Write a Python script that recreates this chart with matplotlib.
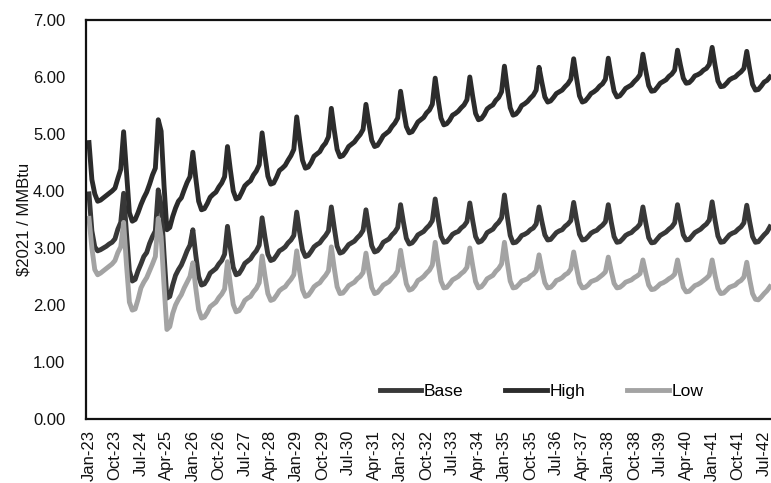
import matplotlib
matplotlib.use("Agg")
import matplotlib.pyplot as plt
import numpy as np

plt.rcParams["font.family"] = ["Liberation Sans", "DejaVu Sans"]

# monthly prices, $2021/MMBtu, Jan-23 .. Sep-42 (one row per year)
high = [
    4.85, 4.20, 3.95, 3.82, 3.84, 3.88, 3.92, 3.96, 4.00, 4.05, 4.22, 4.38,
    5.04, 4.33, 3.62, 3.47, 3.50, 3.62, 3.76, 3.88, 3.98, 4.12, 4.28, 4.40,
    5.25, 5.05, 4.10, 3.32, 3.36, 3.55, 3.70, 3.82, 3.88, 4.02, 4.15, 4.25,
    4.68, 4.23, 3.82, 3.67, 3.69, 3.78, 3.89, 3.94, 3.98, 4.07, 4.14, 4.25,
    4.78, 4.37, 4.00, 3.86, 3.88, 3.98, 4.09, 4.14, 4.18, 4.28, 4.35, 4.46,
    5.02, 4.62, 4.26, 4.12, 4.14, 4.24, 4.36, 4.40, 4.45, 4.54, 4.62, 4.73,
    5.30, 4.90, 4.54, 4.40, 4.42, 4.50, 4.61, 4.65, 4.69, 4.78, 4.84, 4.95,
    5.45, 5.07, 4.73, 4.60, 4.62, 4.69, 4.78, 4.82, 4.86, 4.93, 4.99, 5.08,
    5.52, 5.19, 4.89, 4.78, 4.80, 4.88, 4.97, 5.01, 5.05, 5.13, 5.19, 5.28,
    5.75, 5.42, 5.13, 5.02, 5.04, 5.12, 5.21, 5.25, 5.29, 5.37, 5.42, 5.52,
    5.98, 5.61, 5.28, 5.16, 5.18, 5.24, 5.33, 5.36, 5.40, 5.46, 5.51, 5.60,
    6.00, 5.66, 5.36, 5.25, 5.27, 5.34, 5.44, 5.48, 5.51, 5.59, 5.64, 5.74,
    6.19, 5.80, 5.46, 5.33, 5.35, 5.41, 5.50, 5.53, 5.57, 5.63, 5.68, 5.77,
    6.17, 5.90, 5.65, 5.56, 5.58, 5.64, 5.71, 5.74, 5.77, 5.83, 5.88, 5.96,
    6.32, 5.98, 5.67, 5.56, 5.58, 5.64, 5.71, 5.74, 5.78, 5.84, 5.88, 5.96,
    6.33, 6.02, 5.75, 5.65, 5.67, 5.73, 5.80, 5.83, 5.86, 5.92, 5.97, 6.04,
    6.40, 6.11, 5.85, 5.75, 5.76, 5.82, 5.89, 5.92, 5.95, 6.01, 6.05, 6.12,
    6.47, 6.21, 5.98, 5.89, 5.90, 5.95, 6.02, 6.04, 6.07, 6.12, 6.15, 6.22,
    6.52, 6.21, 5.93, 5.83, 5.84, 5.89, 5.95, 5.98, 6.00, 6.05, 6.09, 6.15,
    6.45, 6.14, 5.87, 5.77, 5.78, 5.84, 5.91, 5.94, 6.00,
]
base = [
    3.95, 3.30, 3.02, 2.95, 2.97, 3.00, 3.03, 3.07, 3.10, 3.16, 3.33, 3.45,
    3.96, 3.25, 2.60, 2.42, 2.45, 2.60, 2.72, 2.85, 2.92, 3.08, 3.20, 3.30,
    4.02, 3.75, 2.90, 2.12, 2.15, 2.35, 2.52, 2.62, 2.70, 2.82, 2.95, 3.05,
    3.32, 2.88, 2.50, 2.35, 2.37, 2.45, 2.56, 2.60, 2.64, 2.72, 2.78, 2.89,
    3.38, 3.00, 2.66, 2.53, 2.55, 2.63, 2.73, 2.77, 2.81, 2.89, 2.95, 3.05,
    3.53, 3.19, 2.89, 2.78, 2.80, 2.87, 2.95, 2.98, 3.02, 3.09, 3.14, 3.22,
    3.63, 3.28, 2.97, 2.85, 2.87, 2.94, 3.02, 3.06, 3.09, 3.16, 3.22, 3.30,
    3.72, 3.36, 3.03, 2.91, 2.93, 2.99, 3.06, 3.09, 3.12, 3.18, 3.23, 3.31,
    3.67, 3.34, 3.04, 2.93, 2.95, 3.01, 3.10, 3.13, 3.16, 3.23, 3.28, 3.36,
    3.76, 3.45, 3.17, 3.07, 3.09, 3.15, 3.23, 3.26, 3.29, 3.35, 3.40, 3.48,
    3.86, 3.52, 3.21, 3.10, 3.11, 3.17, 3.24, 3.27, 3.29, 3.35, 3.39, 3.46,
    3.79, 3.48, 3.20, 3.10, 3.12, 3.18, 3.27, 3.30, 3.33, 3.40, 3.45, 3.53,
    3.93, 3.55, 3.22, 3.09, 3.10, 3.15, 3.22, 3.24, 3.27, 3.32, 3.35, 3.42,
    3.72, 3.46, 3.23, 3.14, 3.15, 3.21, 3.27, 3.30, 3.32, 3.38, 3.42, 3.48,
    3.80, 3.50, 3.24, 3.14, 3.15, 3.20, 3.26, 3.29, 3.31, 3.36, 3.40, 3.46,
    3.76, 3.46, 3.20, 3.10, 3.11, 3.16, 3.22, 3.25, 3.27, 3.32, 3.36, 3.42,
    3.72, 3.44, 3.18, 3.09, 3.10, 3.16, 3.22, 3.25, 3.28, 3.33, 3.37, 3.44,
    3.76, 3.48, 3.23, 3.14, 3.15, 3.21, 3.27, 3.30, 3.33, 3.38, 3.42, 3.49,
    3.81, 3.49, 3.21, 3.10, 3.11, 3.17, 3.23, 3.26, 3.28, 3.33, 3.37, 3.44,
    3.75, 3.46, 3.20, 3.10, 3.11, 3.17, 3.23, 3.28, 3.37,
]
low = [
    3.52, 3.00, 2.62, 2.53, 2.56, 2.60, 2.64, 2.68, 2.72, 2.78, 2.92, 3.02,
    3.45, 2.70, 2.05, 1.91, 1.93, 2.10, 2.30, 2.40, 2.48, 2.60, 2.72, 2.85,
    3.52, 3.20, 2.35, 1.57, 1.62, 1.85, 2.00, 2.10, 2.18, 2.30, 2.40, 2.50,
    2.74, 2.30, 1.92, 1.77, 1.79, 1.87, 1.97, 2.01, 2.05, 2.13, 2.19, 2.28,
    2.76, 2.36, 2.01, 1.88, 1.90, 1.98, 2.08, 2.12, 2.15, 2.23, 2.29, 2.39,
    2.86, 2.51, 2.20, 2.08, 2.10, 2.17, 2.25, 2.29, 2.32, 2.39, 2.45, 2.53,
    2.95, 2.59, 2.27, 2.15, 2.17, 2.24, 2.32, 2.36, 2.39, 2.46, 2.52, 2.60,
    3.02, 2.65, 2.32, 2.20, 2.21, 2.27, 2.34, 2.37, 2.40, 2.46, 2.50, 2.57,
    2.91, 2.59, 2.31, 2.20, 2.22, 2.28, 2.35, 2.38, 2.41, 2.47, 2.52, 2.60,
    2.96, 2.65, 2.37, 2.26, 2.28, 2.34, 2.43, 2.46, 2.50, 2.56, 2.61, 2.70,
    3.10, 2.74, 2.42, 2.30, 2.31, 2.37, 2.44, 2.47, 2.50, 2.55, 2.59, 2.66,
    3.00, 2.69, 2.41, 2.30, 2.32, 2.38, 2.46, 2.49, 2.52, 2.59, 2.64, 2.72,
    3.10, 2.74, 2.42, 2.30, 2.31, 2.36, 2.42, 2.44, 2.46, 2.51, 2.54, 2.60,
    2.88, 2.62, 2.39, 2.30, 2.31, 2.36, 2.43, 2.45, 2.48, 2.53, 2.56, 2.63,
    2.93, 2.65, 2.39, 2.30, 2.31, 2.35, 2.41, 2.43, 2.45, 2.49, 2.53, 2.58,
    2.84, 2.60, 2.38, 2.30, 2.31, 2.35, 2.40, 2.42, 2.44, 2.48, 2.51, 2.55,
    2.79, 2.56, 2.35, 2.27, 2.28, 2.32, 2.37, 2.39, 2.42, 2.46, 2.49, 2.54,
    2.79, 2.54, 2.31, 2.23, 2.24, 2.29, 2.34, 2.36, 2.39, 2.43, 2.47, 2.52,
    2.79, 2.52, 2.29, 2.20, 2.21, 2.26, 2.31, 2.33, 2.35, 2.40, 2.43, 2.49,
    2.75, 2.45, 2.20, 2.10, 2.09, 2.14, 2.20, 2.25, 2.32,
]

tick_labels = ["Jan-23", "Oct-23", "Jul-24", "Apr-25", "Jan-26", "Oct-26", "Jul-27",
               "Apr-28", "Jan-29", "Oct-29", "Jul-30", "Apr-31", "Jan-32", "Oct-32",
               "Jul-33", "Apr-34", "Jan-35", "Oct-35", "Jul-36", "Apr-37", "Jan-38",
               "Oct-38", "Jul-39", "Apr-40", "Jan-41", "Oct-41", "Jul-42"]

months = np.arange(len(high))

fig = plt.figure(figsize=(7.71, 4.83), dpi=100)
fig.patch.set_facecolor("white")
ax = fig.add_axes([86 / 771, 64 / 483, 1 - 86 / 771, 399 / 483])

ax.plot(months, base, color="#383838", lw=3.5, label="Base")
ax.plot(months, high, color="#2c2c2c", lw=3.5, label="High")
ax.plot(months, low, color="#a3a3a3", lw=3.5, label="Low")

ax.set_ylim(0, 7)
ax.set_yticks(np.arange(0, 8, 1))
ax.set_yticklabels([f"{v:.2f}" for v in range(8)], fontsize=12)
ax.set_xlim(-1.04, 236.4)
ax.set_xticks(np.arange(0, 9 * len(tick_labels), 9))
ax.set_xticklabels(tick_labels, rotation=90, fontsize=12)
ax.tick_params(axis="both", length=0, colors="#111111")
ax.tick_params(axis="y", pad=15)
ax.tick_params(axis="x", pad=8)

ax.spines["right"].set_visible(False)
for s in ("left", "bottom", "top"):
    ax.spines[s].set_linewidth(1.6)
    ax.spines[s].set_color("#111111")

ax.set_ylabel("$2021 / MMBtu", fontsize=12, color="#111111")
ax.yaxis.set_label_coords(-0.08, 0.5)

ax.legend(loc="center", bbox_to_anchor=(0.665, 0.07), ncol=3, frameon=False,
          fontsize=12.5, handlelength=2.4, handletextpad=0.15, columnspacing=2.4)

fig.savefig("out.png", dpi=100, facecolor="white")
